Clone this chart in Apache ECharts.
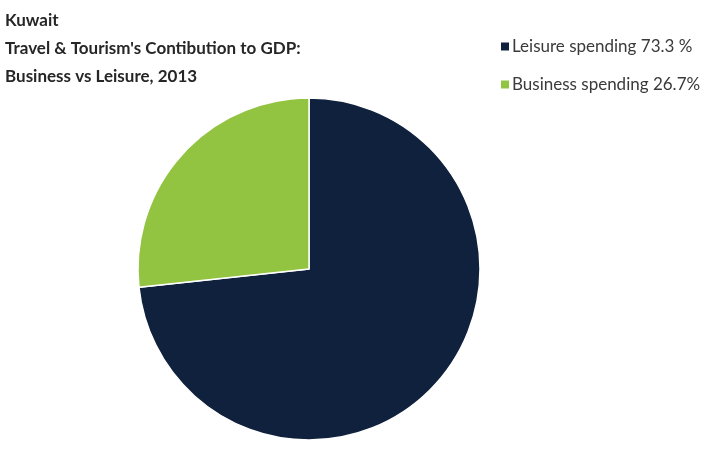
<!DOCTYPE html>
<html>
<head>
<meta charset="utf-8">
<script src="https://cdn.jsdelivr.net/npm/echarts@6/dist/echarts.min.js"></script>
<style>
html,body{margin:0;padding:0;background:#fff;}
#chart{width:725px;height:450px;}
</style>
</head>
<body>
<div id="chart"></div>
<script>
var categories = ['Leisure spending 73.3 %', 'Business spending 26.7%'];
var values = [73.3, 26.7];
var colors = ['#0f213c', '#92c442'];

var myChart = echarts.init(document.getElementById('chart'));
var option = {
	animation : false,
	title : {
		text : 'Kuwait\nTravel & Tourism\'s Contibution to GDP:\nBusiness vs Leisure, 2013',
		left : 5,
		top : 7,
		padding : 0,
		textStyle : {
			fontFamily : 'Lato',
			fontSize : 17,
			fontWeight : 'bold',
			color : '#262626',
			lineHeight : 28
		}
	},
	legend : {
		orient : 'vertical',
		left : 494,
		top : 33,
		itemWidth : 10,
		itemHeight : 10,
		itemGap : 21,
		icon : 'rect',
		textStyle : {
			fontFamily : 'Lato',
			fontSize : 17,
			color : '#3a3a3a',
			padding : [0, 0, 0, -3]
		},
		data : categories
	},
	color : colors,
	series : [ {
		type : 'pie',
		center : [309, 269],
		radius : 171,
		startAngle : 90,
		clockwise : true,
		label : { show : false },
		labelLine : { show : false },
		itemStyle : { borderColor : '#fff', borderWidth : 1.5 },
		emphasis : { disabled : true },
		data : categories.map(function(c, i){ return { name : c, value : values[i] }; })
	} ]
};
myChart.setOption(option);
</script>
</body>
</html>
